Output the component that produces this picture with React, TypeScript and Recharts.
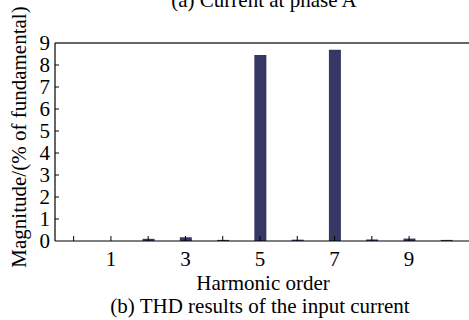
import { BarChart, Bar, XAxis, YAxis, ReferenceLine } from "recharts";

const harmonics = ["0", "1", "2", "3", "4", "5", "6", "7", "8", "9", "10"];
const magnitudes = [0, 0, 0.1, 0.17, 0.05, 8.45, 0.06, 8.69, 0.07, 0.11, 0.05];
const yTicks = [0, 1, 2, 3, 4, 5, 6, 7, 8, 9];
const labeledHarmonics = ["1", "3", "5", "7", "9"];
const unticked = ["10"];

const data = harmonics.map((h, i) => ({ order: h, value: magnitudes[i] }));

const FONT = "Liberation Serif, Times New Roman, serif";

const XTick = ({ x, y, payload }: any) => {
  const v = String(payload.value);
  return (
    <g>
      {!unticked.includes(v) && <line x1={x} x2={x} y1={y} y2={y - 5} stroke="#000" strokeWidth={1} />}
      {labeledHarmonics.includes(v) && (
        <text x={x} y={y + 25} textAnchor="middle" fontSize={21} fontFamily={FONT} fill="#000">
          {v}
        </text>
      )}
    </g>
  );
};

const YTick = ({ x, y, payload }: any) => (
  <g>
    {payload.value !== 0 && payload.value !== 9 && (
      <line x1={x + 5} x2={x + 9} y1={y} y2={y} stroke="#000" strokeWidth={1} />
    )}
    <text x={x} y={y + 7} textAnchor="end" fontSize={21} fontFamily={FONT} fill="#000">
      {payload.value}
    </text>
  </g>
);

export default function App() {
  return (
    <div style={{ position: "absolute", left: 0, top: 0, width: 469, height: 320, background: "#fff", overflow: "hidden" }}>
      <BarChart width={469} height={320} data={data} margin={{ top: 43, right: 0, left: 0, bottom: 49 }}>
        <ReferenceLine y={9} stroke="#333" strokeWidth={1.6} />
        <XAxis
          dataKey="order"
          height={30}
          interval={0}
          tickSize={0}
          tickMargin={0}
          tickLine={false}
          tick={<XTick />}
          axisLine={{ stroke: "#000", strokeWidth: 1.2 }}
          padding={{ left: 0, right: 4 }}
        />
        <YAxis
          width={55}
          domain={[0, 9]}
          ticks={yTicks}
          interval={0}
          tickSize={0}
          tickMargin={5}
          tickLine={false}
          tick={<YTick />}
          axisLine={{ stroke: "#000", strokeWidth: 1.2 }}
        />
        <Bar dataKey="value" fill="#343862" barSize={12} isAnimationActive={false} />
      </BarChart>
      <svg width={469} height={320} style={{ position: "absolute", left: 0, top: 0, pointerEvents: "none" }}>
        <text x={264} y={7} textAnchor="middle" fontSize={21} fontFamily={FONT} fill="#000">
          (a) Current at phase A
        </text>
        <text x={263} y={290} textAnchor="middle" fontSize={21} fontFamily={FONT} fill="#000">
          Harmonic order
        </text>
        <text x={260} y={313} textAnchor="middle" fontSize={21} fontFamily={FONT} fill="#000">
          (b) THD results of the input current
        </text>
        <text
          x={26}
          y={137}
          transform="rotate(-90 26 137)"
          textAnchor="middle"
          fontSize={21}
          fontFamily={FONT}
          fill="#000"
        >
          Magnitude/(% of fundamental)
        </text>
      </svg>
    </div>
  );
}
